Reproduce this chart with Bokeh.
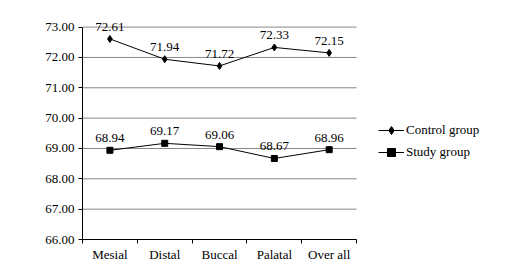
from bokeh.plotting import figure
from bokeh.models import FixedTicker, NumeralTickFormatter, Legend, LegendItem, ColumnDataSource, Range1d
from bokeh.core.properties import value
from bokeh.embed import file_html
from bokeh.resources import INLINE

categories = ["Mesial", "Distal", "Buccal", "Palatal", "Over all"]
control = [72.61, 71.94, 71.72, 72.33, 72.15]
study = [68.94, 69.17, 69.06, 68.67, 68.96]
y_ticks = [66, 67, 68, 69, 70, 71, 72, 73]

FONT = "Liberation Serif"
FS = "13px"
n = len(categories)
xs = [i + 0.5 for i in range(n)]

p = figure(width=509, height=269, output_backend="svg", toolbar_location=None,
           x_range=Range1d(0, 7.79), y_range=Range1d(66, 73.58),
           min_border_left=82, min_border_right=0, min_border_top=9, min_border_bottom=30)
p.outline_line_color = None
p.background_fill_color = "white"

p.xgrid.visible = False
p.ygrid.visible = False
p.segment(x0=[0] * len(y_ticks), x1=[n] * len(y_ticks), y0=y_ticks, y1=y_ticks,
          line_color="#868686", line_width=1, level="underlay")

p.yaxis.ticker = FixedTicker(ticks=y_ticks)
p.yaxis.bounds = (66, 73)
p.yaxis.formatter = NumeralTickFormatter(format="0.00")
p.yaxis.major_tick_in = 0
p.yaxis.major_tick_out = 4
p.yaxis.minor_tick_line_color = None
p.yaxis.axis_line_color = "black"
p.yaxis.major_label_text_font = FONT
p.yaxis.major_label_text_font_size = FS
p.yaxis.major_label_text_color = "black"
p.yaxis.major_label_standoff = 4

p.xaxis.ticker = FixedTicker(ticks=xs, minor_ticks=list(range(n + 1)))
p.xaxis.bounds = (0, n)
p.xaxis.major_label_overrides = {x: c for x, c in zip(xs, categories)}
p.xaxis.major_tick_in = 0
p.xaxis.major_tick_out = 0
p.xaxis.minor_tick_in = 0
p.xaxis.minor_tick_out = 4
p.xaxis.minor_tick_line_color = "black"
p.xaxis.axis_line_color = "black"
p.xaxis.major_label_text_font = FONT
p.xaxis.major_label_text_font_size = FS
p.xaxis.major_label_text_color = "black"
p.xaxis.major_label_standoff = 3

src_c = ColumnDataSource(dict(x=xs, y=control, t=["%.2f" % v for v in control]))
src_s = ColumnDataSource(dict(x=xs, y=study, t=["%.2f" % v for v in study]))

lc = p.line("x", "y", source=src_c, line_color="black", line_width=1)
mc = p.scatter("x", "y", source=src_c, marker="diamond", size=7, fill_color="black", line_color="black")
ls = p.line("x", "y", source=src_s, line_color="black", line_width=1)
ms = p.scatter("x", "y", source=src_s, marker="square", size=6, fill_color="black", line_color="black")

for src in (src_c, src_s):
    p.text("x", "y", text="t", source=src, text_align="center", text_baseline="bottom",
           y_offset=-8, text_font=value(FONT), text_font_size=FS, text_color="black")

legend = Legend(items=[LegendItem(label="Control group", renderers=[lc, mc]),
                       LegendItem(label="Study group", renderers=[ls, ms])],
                location=(296, 77), border_line_color=None, background_fill_alpha=0,
                padding=0, margin=0, spacing=2, glyph_width=26, glyph_height=20,
                label_standoff=2, label_text_font=FONT, label_text_font_size=FS,
                label_text_color="black")
p.add_layout(legend)

open("out.html", "w").write(file_html(p, INLINE))
